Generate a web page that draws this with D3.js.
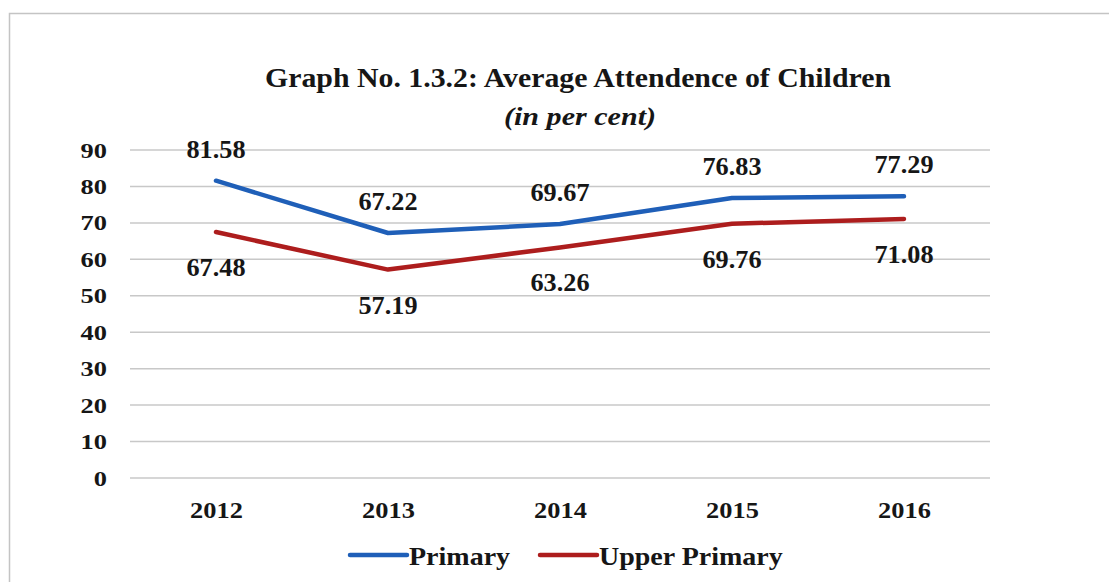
<!DOCTYPE html>
<html>
<head>
<meta charset="utf-8">
<script src="https://cdn.jsdelivr.net/npm/d3@7"></script>
<style>
  html, body { margin: 0; padding: 0; background: #fff; }
  svg { display: block; }
  text { font-family: "Liberation Serif", "Times New Roman", serif; font-weight: bold; fill: #161616; }
</style>
</head>
<body>
<svg id="chart" width="1109" height="582"></svg>
<script>
// Years on the x axis
const years = ["2012", "2013", "2014", "2015", "2016"];
// Average attendance (per cent)
const primary = [81.58, 67.22, 69.67, 76.83, 77.29];
const upperPrimary = [67.48, 57.19, 63.26, 69.76, 71.08];
// Y axis ticks
const yTicks = [0, 10, 20, 30, 40, 50, 60, 70, 80, 90];

const seriesNames = ["Primary", "Upper Primary"];
const seriesColors = ["#1f5fb8", "#ad1d1d"];

const svg = d3.select("#chart");

// Widen a text element horizontally by factor k (serif face set a bit wide)
function stretch(sel, k) {
  sel.each(function () {
    const w = this.getComputedTextLength();
    d3.select(this).attr("textLength", w * k).attr("lengthAdjust", "spacingAndGlyphs");
  });
  return sel;
}

// outer frame
svg.append("rect")
  .attr("x", 9.5).attr("y", 13.5)
  .attr("width", 1120).attr("height", 600)
  .attr("fill", "none").attr("stroke", "#c4c4c4").attr("stroke-width", 1.5);

// scales
const x = d3.scalePoint().domain(years).range([130, 990]).padding(0.5);
const y = d3.scaleLinear().domain([0, 90]).range([478, 150]);

// gridlines
svg.append("g")
  .selectAll("line")
  .data(yTicks)
  .join("line")
  .attr("x1", 130).attr("x2", 990)
  .attr("y1", d => y(d)).attr("y2", d => y(d))
  .attr("stroke", "#c8c8c8").attr("stroke-width", 1.5);

// y axis (labels only)
const yAxis = svg.append("g")
  .attr("transform", "translate(107,0)")
  .call(d3.axisLeft(y).tickValues(yTicks).tickSize(0).tickPadding(0));
yAxis.select(".domain").remove();
yAxis.selectAll("text")
  .attr("dy", null).attr("y", 7)
  .style("font-size", "22px")
  .style("font-family", "'Liberation Serif', serif")
  .style("font-weight", "bold")
  .attr("fill", "#161616");
stretch(yAxis.selectAll("text"), 1.2);

// x axis (labels only)
const xAxis = svg.append("g")
  .attr("transform", "translate(0,518)")
  .call(d3.axisBottom(x).tickSize(0).tickPadding(0));
xAxis.select(".domain").remove();
xAxis.selectAll("text")
  .attr("dy", null).attr("y", 0)
  .style("font-size", "24px")
  .style("font-family", "'Liberation Serif', serif")
  .style("font-weight", "bold")
  .attr("fill", "#161616");
stretch(xAxis.selectAll("text"), 1.1);

// lines
const line = d3.line().x((d, i) => x(years[i])).y(d => y(d));
[primary, upperPrimary].forEach((vals, s) => {
  svg.append("path")
    .datum(vals)
    .attr("d", line)
    .attr("fill", "none")
    .attr("stroke", seriesColors[s])
    .attr("stroke-width", 4.5)
    .attr("stroke-linejoin", "round")
    .attr("stroke-linecap", "round");
});

// data labels: Primary above, Upper Primary below
const lblP = svg.append("g").selectAll("text")
  .data(primary)
  .join("text")
  .attr("x", (d, i) => x(years[i]))
  .attr("y", d => y(d) - 23)
  .attr("text-anchor", "middle")
  .style("font-size", "25px")
  .text(d => d.toFixed(2));
stretch(lblP, 1.05);

const lblU = svg.append("g").selectAll("text")
  .data(upperPrimary)
  .join("text")
  .attr("x", (d, i) => x(years[i]))
  .attr("y", d => y(d) + 44)
  .attr("text-anchor", "middle")
  .style("font-size", "25px")
  .text(d => d.toFixed(2));
stretch(lblU, 1.05);

// title
svg.append("text")
  .attr("x", 578).attr("y", 87)
  .attr("text-anchor", "middle")
  .style("font-size", "28px")
  .attr("textLength", 626).attr("lengthAdjust", "spacingAndGlyphs")
  .text("Graph No. 1.3.2: Average Attendence of Children");

svg.append("text")
  .attr("x", 580).attr("y", 125)
  .attr("text-anchor", "middle")
  .style("font-size", "26px")
  .style("font-style", "italic")
  .attr("textLength", 152).attr("lengthAdjust", "spacingAndGlyphs")
  .text("(in per cent)");

// legend
const legendX = [350, 540];
seriesNames.forEach((name, s) => {
  const g = svg.append("g").attr("transform", `translate(${legendX[s]},0)`);
  g.append("line")
    .attr("x1", 0).attr("x2", 57)
    .attr("y1", 555).attr("y2", 555)
    .attr("stroke", seriesColors[s]).attr("stroke-width", 4.5)
    .attr("stroke-linecap", "round");
  const t = g.append("text")
    .attr("x", 59).attr("y", 565)
    .style("font-size", "25px")
    .text(name);
  stretch(t, 1.12);
});
</script>
</body>
</html>
